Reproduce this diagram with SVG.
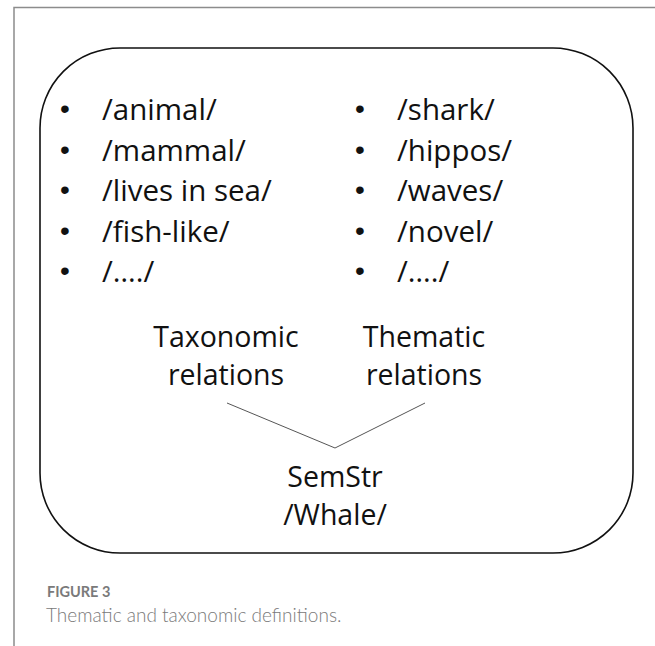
<svg xmlns="http://www.w3.org/2000/svg" width="655" height="646" viewBox="0 0 655 646">
<style>
.t{font-family:"Open Sans","Liberation Sans",sans-serif;font-size:29.5px;fill:#111}
.l{font-family:"Open Sans","Liberation Sans",sans-serif;font-size:28.5px;fill:#111;text-anchor:middle}
.b{font-family:"Liberation Sans",sans-serif;font-size:28px;fill:#111;text-anchor:middle}
.cap{font-family:Lato,"Open Sans",sans-serif;fill:#7a7a7a}
</style>
<rect width="655" height="646" fill="#fff"/>
<path d="M14 646 V7.5 H655" fill="none" stroke="#8c8c8c" stroke-width="1.5"/>
<g id="frame">
<rect x="40" y="48" width="593" height="505" rx="80" ry="80" fill="none" stroke="#111" stroke-width="1.6"/>
</g>
<g id="taxonomic-list">
<text class="b" x="65" y="118">•</text>
<text class="b" x="65" y="158.5">•</text>
<text class="b" x="65" y="199">•</text>
<text class="b" x="65" y="239.5">•</text>
<text class="b" x="65" y="280">•</text>
<text class="t" x="102" y="120">/animal/</text>
<text class="t" x="102" y="160.5">/mammal/</text>
<text class="t" x="102" y="201">/lives in sea/</text>
<text class="t" x="102" y="241.5">/fish-like/</text>
<text class="t" x="102" y="282">/…./</text>
</g>
<g id="thematic-list">
<text class="b" x="360" y="118">•</text>
<text class="b" x="360" y="158.5">•</text>
<text class="b" x="360" y="199">•</text>
<text class="b" x="360" y="239.5">•</text>
<text class="b" x="360" y="280">•</text>
<text class="t" x="397" y="120">/shark/</text>
<text class="t" x="397" y="160.5">/hippos/</text>
<text class="t" x="397" y="201">/waves/</text>
<text class="t" x="397" y="241.5">/novel/</text>
<text class="t" x="397" y="282">/…./</text>
</g>
<g id="taxonomic-relations">
<text class="l" x="226" y="347">Taxonomic</text>
<text class="l" x="226" y="385">relations</text>
</g>
<g id="thematic-relations">
<text class="l" x="424" y="347">Thematic</text>
<text class="l" x="424" y="385">relations</text>
</g>
<g id="connectors" fill="none" stroke="#555" stroke-width="1">
<path d="M227 403 L335 448"/>
<path d="M425 403 L335 448"/>
</g>
<g id="semstr">
<text class="l" x="335" y="487">SemStr</text>
<text class="l" x="335" y="525">/Whale/</text>
</g>
<g id="caption">
<text class="cap" x="47" y="597" font-size="14.5" font-weight="bold">FIGURE 3</text>
<text class="cap" x="46" y="622" font-size="19" font-weight="300">Thematic and taxonomic definitions.</text>
</g>
</svg>
